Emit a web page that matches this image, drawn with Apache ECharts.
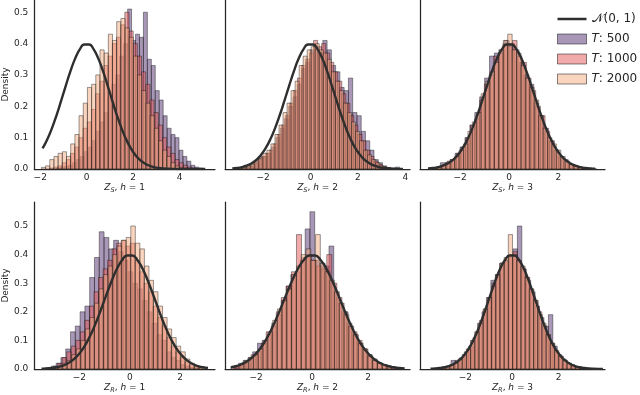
<!DOCTYPE html>
<html>
<head>
<meta charset="utf-8">
<script src="https://cdn.jsdelivr.net/npm/echarts@6/dist/echarts.min.js"></script>
<style>
  html, body { margin: 0; padding: 0; background: #fff; }
  #chart { width: 640px; height: 395px; }
</style>
</head>
<body>
<div id="chart"></div>
<script>
// 数据：三组样本长度的直方图（密度）与标准正态曲线
var seriesNames = ['T: 500', 'T: 1000', 'T: 2000'];
var curveName = 'N(0, 1)';
var xNames = [
  '{i|Z}{s|S}, {i|h} = 1', '{i|Z}{s|S}, {i|h} = 2', '{i|Z}{s|S}, {i|h} = 3',
  '{i|Z}{s|R}, {i|h} = 1', '{i|Z}{s|R}, {i|h} = 2', '{i|Z}{s|R}, {i|h} = 3'
];
var xTicks = [[-2, 0, 2, 4], [-2, 0, 2, 4], [-2, 0, 2], [-2, 0, 2], [-2, 0, 2], [-2, 0, 2]];
var yTicks = [0, 0.1, 0.2, 0.3, 0.4, 0.5];

// N(0,1) 曲线上读出的点
var normX = [-3.5, -3.3, -3.1, -2.9, -2.7, -2.5, -2.3, -2.1, -1.9, -1.7, -1.5, -1.3, -1.1, -0.9, -0.7, -0.5, -0.3, -0.1,
  0.1, 0.3, 0.5, 0.7, 0.9, 1.1, 1.3, 1.5, 1.7, 1.9, 2.1, 2.3, 2.5, 2.7, 2.9, 3.1, 3.3, 3.5, 3.7, 3.9, 4.1, 4.3, 4.5, 4.7, 4.9, 5.1];
var normY = [0.0009, 0.0017, 0.0033, 0.0060, 0.0104, 0.0175, 0.0283, 0.0440, 0.0656, 0.0940, 0.1295, 0.1714, 0.2179, 0.2661, 0.3123, 0.3521, 0.3814, 0.3970,
  0.3970, 0.3814, 0.3521, 0.3123, 0.2661, 0.2179, 0.1714, 0.1295, 0.0940, 0.0656, 0.0440, 0.0283, 0.0175, 0.0104, 0.0060, 0.0033, 0.0017, 0.0009, 0.0004, 0.0002, 0.0001, 0, 0, 0, 0, 0];
var curveRange = [[-1.9, 5.1], [-3.3, 3.9], [-3.3, 3.5], [-3.5, 3.1], [-2.9, 3.3], [-3.5, 3.9]];

// 每个面板：[起点, 组距]，顺序 T500, T1000, T2000
var zs1Bins = [[-1.3, 0.17], [-1.6, 0.18], [-1.95, 0.18]];
var zs1T500 = [0.003, 0.005, 0.008, 0.012, 0.02, 0.03, 0.04, 0.055, 0.07, 0.09, 0.12, 0.15, 0.18, 0.23, 0.27, 0.30, 0.36, 0.40, 0.51, 0.41,
  0.43, 0.42, 0.50, 0.35, 0.33, 0.25, 0.22, 0.17, 0.13, 0.11, 0.10, 0.06, 0.04, 0.025, 0.012, 0.006, 0.003];
var zs1T1000 = [0.003, 0.006, 0.01, 0.02, 0.03, 0.05, 0.07, 0.10, 0.13, 0.15, 0.19, 0.24, 0.28, 0.33, 0.36, 0.40, 0.42, 0.46, 0.50, 0.44,
  0.40, 0.36, 0.31, 0.27, 0.22, 0.18, 0.14, 0.10, 0.07, 0.05, 0.03, 0.02, 0.012, 0.006, 0.003];
var zs1T2000 = [0.005, 0.01, 0.03, 0.04, 0.05, 0.055, 0.04, 0.08, 0.11, 0.17, 0.21, 0.26, 0.27, 0.30, 0.38, 0.37, 0.43, 0.41, 0.47, 0.48,
  0.45, 0.42, 0.36, 0.30, 0.25, 0.21, 0.17, 0.13, 0.09, 0.06, 0.04, 0.02, 0.01, 0.005, 0.003];

var zs2Bins = [[-2.9, 0.18], [-3.1, 0.17], [-3.2, 0.17]];
var zs2T500 = [0.003, 0.006, 0.01, 0.02, 0.035, 0.04, 0.05, 0.07, 0.10, 0.13, 0.16, 0.20, 0.23, 0.27, 0.32, 0.34, 0.38, 0.39, 0.37, 0.41,
  0.38, 0.33, 0.31, 0.26, 0.25, 0.29, 0.18, 0.17, 0.12, 0.09, 0.06, 0.03, 0.02, 0.01, 0.005, 0.003, 0.006];
var zs2T1000 = [0.002, 0.003, 0.005, 0.01, 0.02, 0.03, 0.04, 0.05, 0.06, 0.08, 0.11, 0.14, 0.17, 0.21, 0.25, 0.29, 0.33, 0.35, 0.37, 0.41,
  0.39, 0.40, 0.37, 0.34, 0.31, 0.28, 0.24, 0.21, 0.17, 0.14, 0.11, 0.09, 0.06, 0.04, 0.025, 0.015, 0.008, 0.004];
var zs2T2000 = [0.002, 0.003, 0.006, 0.01, 0.015, 0.025, 0.035, 0.05, 0.06, 0.08, 0.11, 0.14, 0.18, 0.21, 0.25, 0.28, 0.33, 0.36, 0.38, 0.39,
  0.40, 0.38, 0.37, 0.35, 0.31, 0.28, 0.25, 0.21, 0.18, 0.15, 0.12, 0.09, 0.06, 0.045, 0.03, 0.02, 0.01, 0.005];

var zs3Bins = [[-3.0, 0.2], [-3.1, 0.19], [-3.3, 0.18]];
var zs3T500 = [0.005, 0.02, 0.02, 0.03, 0.05, 0.07, 0.10, 0.14, 0.18, 0.23, 0.29, 0.36, 0.37, 0.38, 0.41, 0.40, 0.38, 0.34, 0.30, 0.27,
  0.21, 0.17, 0.13, 0.09, 0.06, 0.04, 0.03, 0.015, 0.01, 0.005, 0.003, 0.002];
var zs3T1000 = [0.003, 0.006, 0.012, 0.025, 0.03, 0.05, 0.07, 0.10, 0.14, 0.16, 0.22, 0.27, 0.30, 0.36, 0.37, 0.40, 0.39, 0.41, 0.36, 0.34,
  0.29, 0.25, 0.20, 0.17, 0.12, 0.09, 0.06, 0.04, 0.025, 0.015, 0.01, 0.005, 0.003, 0.002, 0.001];
var zs3T2000 = [0.002, 0.003, 0.006, 0.012, 0.02, 0.03, 0.04, 0.06, 0.08, 0.12, 0.15, 0.18, 0.24, 0.28, 0.31, 0.34, 0.38, 0.41, 0.43, 0.38,
  0.37, 0.33, 0.29, 0.26, 0.22, 0.17, 0.13, 0.10, 0.08, 0.06, 0.04, 0.025, 0.015, 0.01, 0.006, 0.003, 0.002];

var zr1Bins = [[-3.3, 0.19], [-3.4, 0.18], [-3.2, 0.18]];
var zr1T500 = [0.005, 0.01, 0.02, 0.04, 0.07, 0.13, 0.15, 0.20, 0.22, 0.32, 0.39, 0.48, 0.46, 0.42, 0.45, 0.41, 0.38, 0.34, 0.30, 0.28,
  0.24, 0.20, 0.16, 0.12, 0.10, 0.06, 0.04, 0.03, 0.015, 0.01, 0.005, 0.003];
var zr1T1000 = [0.003, 0.005, 0.01, 0.02, 0.04, 0.06, 0.08, 0.10, 0.13, 0.17, 0.22, 0.27, 0.32, 0.35, 0.38, 0.42, 0.44, 0.45, 0.43, 0.44,
  0.38, 0.34, 0.30, 0.27, 0.22, 0.18, 0.15, 0.11, 0.08, 0.06, 0.04, 0.025, 0.015, 0.008, 0.004];
var zr1T2000 = [0.003, 0.005, 0.01, 0.02, 0.03, 0.05, 0.07, 0.10, 0.14, 0.18, 0.23, 0.28, 0.33, 0.36, 0.40, 0.43, 0.45, 0.46, 0.50, 0.44,
  0.42, 0.36, 0.31, 0.27, 0.22, 0.18, 0.14, 0.11, 0.08, 0.06, 0.035, 0.02, 0.01, 0.005];

var zr2Bins = [[-2.8, 0.17], [-2.9, 0.18], [-2.6, 0.17]];
var zr2T500 = [0.01, 0.02, 0.03, 0.04, 0.06, 0.09, 0.10, 0.12, 0.16, 0.19, 0.24, 0.29, 0.33, 0.34, 0.38, 0.49, 0.55, 0.38, 0.37, 0.36,
  0.43, 0.27, 0.23, 0.20, 0.15, 0.12, 0.09, 0.07, 0.05, 0.03, 0.02, 0.015, 0.01, 0.005];
var zr2T1000 = [0.007, 0.012, 0.02, 0.03, 0.05, 0.06, 0.09, 0.13, 0.15, 0.20, 0.25, 0.29, 0.34, 0.47, 0.39, 0.40, 0.38, 0.36, 0.35, 0.40,
  0.30, 0.25, 0.20, 0.16, 0.13, 0.10, 0.07, 0.05, 0.035, 0.02, 0.015, 0.008, 0.005];
var zr2T2000 = [0.015, 0.03, 0.04, 0.05, 0.07, 0.10, 0.13, 0.17, 0.21, 0.24, 0.28, 0.33, 0.36, 0.40, 0.42, 0.38, 0.47, 0.37, 0.34, 0.31,
  0.27, 0.23, 0.19, 0.15, 0.12, 0.09, 0.07, 0.045, 0.03, 0.02, 0.015, 0.01, 0.005, 0.003];

var zr3Bins = [[-3.0, 0.19], [-3.2, 0.18], [-3.4, 0.18]];
var zr3T500 = [0.005, 0.01, 0.03, 0.03, 0.04, 0.06, 0.08, 0.11, 0.16, 0.20, 0.25, 0.31, 0.33, 0.37, 0.38, 0.39, 0.42, 0.50, 0.35, 0.31,
  0.27, 0.22, 0.18, 0.15, 0.19, 0.08, 0.05, 0.035, 0.02, 0.015, 0.008, 0.004];
var zr3T1000 = [0.003, 0.005, 0.01, 0.015, 0.025, 0.035, 0.05, 0.07, 0.10, 0.13, 0.17, 0.21, 0.25, 0.30, 0.33, 0.37, 0.38, 0.40, 0.41, 0.38,
  0.35, 0.32, 0.28, 0.24, 0.19, 0.15, 0.12, 0.09, 0.06, 0.045, 0.03, 0.02, 0.012, 0.007, 0.004, 0.002];
var zr3T2000 = [0.002, 0.003, 0.005, 0.01, 0.015, 0.02, 0.035, 0.05, 0.07, 0.10, 0.13, 0.16, 0.21, 0.25, 0.29, 0.33, 0.37, 0.39, 0.47, 0.40,
  0.38, 0.36, 0.32, 0.28, 0.24, 0.20, 0.16, 0.12, 0.09, 0.065, 0.045, 0.03, 0.02, 0.012, 0.008, 0.005, 0.003, 0.001];

var panels = [
  { bins: zs1Bins, values: [zs1T500, zs1T1000, zs1T2000] },
  { bins: zs2Bins, values: [zs2T500, zs2T1000, zs2T2000] },
  { bins: zs3Bins, values: [zs3T500, zs3T1000, zs3T2000] },
  { bins: zr1Bins, values: [zr1T500, zr1T1000, zr1T2000] },
  { bins: zr2Bins, values: [zr2T500, zr2T1000, zr2T2000] },
  { bins: zr3Bins, values: [zr3T500, zr3T1000, zr3T2000] }
];

// 布局与样式
var ink = '#262626';
var font = 'DejaVu Sans';
var colors = ['rgba(82,48,112,0.5)', 'rgba(225,85,85,0.5)', 'rgba(243,170,125,0.5)'];
var edge = 'rgba(15,15,15,0.55)';
var curveColor = '#2e2e2e';
var gridLeft = [30, 225, 420];
var gridTop = [0, 202];
var yMax = [0.539, 0.584];
var xRange = [[-2.26, 5.52], [-3.61, 4.2], [-3.63, 3.9], [-3.79, 3.38], [-3.11, 3.49], [-3.95, 3.99]];
// 图例里的线：中间一条粗线，上下两个极小的点撑开图标高度
var lineIcon = 'path://M0,0 L0.01,0 L0,0.01 Z M0,3.8 L29,3.8 L29,6.2 L0,6.2 Z M0,10 L0.01,10 L0,9.99 Z';

function minusFmt(v) {
  return v < 0 ? '\u2212' + Math.abs(v) : String(v);
}

function renderBar(params, api) {
  var p0 = api.coord([api.value(0), api.value(2)]);
  var p1 = api.coord([api.value(1), 0]);
  return {
    type: 'rect',
    shape: { x: p0[0], y: p0[1], width: p1[0] - p0[0], height: p1[1] - p0[1] },
    style: { fill: api.visual('color'), stroke: edge, lineWidth: 0.75 }
  };
}

var grids = [], xAxes = [], yAxes = [], series = [];

panels.forEach(function (p, k) {
  var row = Math.floor(k / 3), col = k % 3;
  grids.push({ left: gridLeft[col], top: gridTop[row], width: 185, height: 169 });
  xAxes.push({
    type: 'value', gridIndex: k, min: xRange[k][0], max: xRange[k][1],
    axisLine: { show: true, onZero: false, lineStyle: { color: ink, width: 1.25 } },
    axisTick: { show: false },
    splitLine: { show: false },
    axisLabel: { customValues: xTicks[k], formatter: minusFmt, fontSize: 9, color: ink, margin: 4 },
    name: xNames[k], nameLocation: 'middle', nameGap: 13,
    nameTextStyle: {
      fontSize: 9, color: ink,
      rich: {
        i: { fontStyle: 'italic', fontSize: 9, color: ink },
        s: { fontStyle: 'italic', fontSize: 6.5, color: ink, padding: [5, 0, 0, 0] }
      }
    }
  });
  yAxes.push({
    type: 'value', gridIndex: k, min: 0, max: yMax[row],
    axisLine: { show: true, onZero: false, lineStyle: { color: ink, width: 1.25 } },
    axisTick: { show: false },
    splitLine: { show: false },
    axisLabel: {
      show: col === 0, customValues: yTicks, fontSize: 9, color: ink, margin: 6,
      formatter: function (v) { return v.toFixed(1); }
    },
    name: col === 0 ? 'Density' : '', nameLocation: 'middle', nameGap: 21,
    nameTextStyle: { fontSize: 9, color: ink }
  });
  p.values.forEach(function (vals, j) {
    var start = p.bins[j][0], w = p.bins[j][1];
    var data = vals.map(function (v, i) {
      return [start + i * w, start + (i + 1) * w, v];
    });
    series.push({
      type: 'custom', name: seriesNames[j], xAxisIndex: k, yAxisIndex: k,
      renderItem: renderBar, encode: { x: [0, 1], y: 2 },
      itemStyle: { color: colors[j] }, data: data, clip: true, silent: true
    });
  });
  var curve = [];
  normX.forEach(function (x, i) {
    if (x >= curveRange[k][0] - 1e-9 && x <= curveRange[k][1] + 1e-9) curve.push([x, normY[i]]);
  });
  series.push({
    type: 'line', name: curveName, xAxisIndex: k, yAxisIndex: k, data: curve,
    smooth: true, symbol: 'none', lineStyle: { color: curveColor, width: 2.4 },
    itemStyle: { color: curveColor }, z: 5, silent: true
  });
});

var legendText = {
  'N(0, 1)': '\uD835\uDCA9(0, 1)',
  'T: 500': '{i|T}: 500',
  'T: 1000': '{i|T}: 1000',
  'T: 2000': '{i|T}: 2000'
};

var myChart = echarts.init(document.getElementById('chart'));
var option = {
  animation: false,
  textStyle: { fontFamily: font },
  grid: grids,
  xAxis: xAxes,
  yAxis: yAxes,
  legend: {
    orient: 'vertical', left: 552, top: 7, itemWidth: 29, itemHeight: 10, itemGap: 6,
    textStyle: { fontSize: 12, color: ink, lineHeight: 14, rich: { i: { fontStyle: 'italic', fontSize: 12, color: ink } } },
    formatter: function (name) { return legendText[name]; },
    data: [
      { name: curveName, icon: lineIcon, itemStyle: { color: curveColor, borderWidth: 0 } },
      { name: seriesNames[0], icon: 'rect', itemStyle: { color: colors[0], borderColor: 'rgba(15,15,15,0.5)', borderWidth: 1 } },
      { name: seriesNames[1], icon: 'rect', itemStyle: { color: colors[1], borderColor: 'rgba(15,15,15,0.5)', borderWidth: 1 } },
      { name: seriesNames[2], icon: 'rect', itemStyle: { color: colors[2], borderColor: 'rgba(15,15,15,0.5)', borderWidth: 1 } }
    ]
  },
  series: series
};
myChart.setOption(option);
</script>
</body>
</html>
